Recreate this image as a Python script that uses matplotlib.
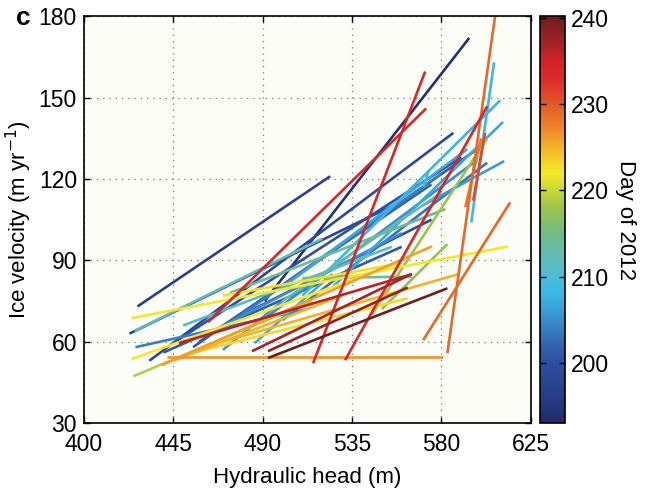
import numpy as np
import matplotlib
matplotlib.use('Agg')
import matplotlib.pyplot as plt
from matplotlib.colors import LinearSegmentedColormap, Normalize
from matplotlib.colorbar import ColorbarBase

plt.rcParams['font.family'] = ['Liberation Sans', 'DejaVu Sans']

# segments: hydraulic head (m) -> ice velocity (m/yr), coloured by day of 2012
x_start = [427, 491, 433, 423, 446, 455, 480, 440, 500, 458, 470, 490, 426, 460,
           470, 486, 500, 510, 525, 570, 606.5, 571, 450, 425.5, 500, 473.6, 510,
           550, 545, 425, 424, 424, 470, 450, 470, 445, 439.3, 442, 592, 570.8,
           583, 596, 462.5, 531.5, 515.4, 447.9, 484.6, 492.7, 492.7]
y_start = [73, 75, 53, 63, 60, 58, 70, 56, 68, 60, 65, 68, 58, 62,
           57, 59.5, 80, 77, 80, 110, 163, 117, 66, 64, 75, 78, 83.5,
           72, 70, 47.3, 68.7, 53.6, 77, 55, 60, 53, 51.4, 54.3, 109.6, 60.6,
           55.8, 112, 67.2, 53.2, 52.1, 59.5, 56.5, 56.5, 54]
x_end = [524, 594, 586, 555, 590, 600, 575, 560, 603, 575, 580, 598, 512, 560,
         500, 525, 593, 609.6, 611, 611.6, 595, 573.5, 555, 520, 580, 582, 565,
         583, 603, 515, 613.6, 555, 560, 563, 589, 530, 575.3, 581, 600, 614.6,
         607, 602, 572.3, 603, 571.8, 565.2, 565, 563, 583]
y_end = [121, 172, 137, 110, 128, 132, 105, 95, 126, 118, 122, 127, 72, 100,
         75, 85, 131, 149, 141, 126.6, 104, 123, 95, 98, 115, 108.9, 84,
         96, 135, 75, 95.1, 88, 89, 76, 85, 77, 95.2, 54.3, 135, 111.4,
         180, 137, 146, 146.8, 159.6, 84.9, 85, 80, 79.7]
day = [197, 194, 199, 198, 200, 201, 199, 201, 203, 202, 204, 205, 204, 205,
       206, 207, 207, 208, 207, 206, 208, 209, 211, 212, 213, 214, 214,
       217, 218, 219, 222, 222, 222.5, 223, 225, 225, 226, 226.5, 228, 229,
       229, 231, 234, 234, 234, 236, 237, 238, 240.5]

cb_ticks = [200, 210, 220, 230, 240]

# colour scale sampled from the colorbar (day, colour)
cmap_days = [193, 196, 200, 202, 205, 208, 210, 212, 215, 218, 220, 222, 224,
             227, 230, 233, 235, 237, 240.2]
cmap_cols = ['#222a6a', '#283c88', '#2c50a0', '#3464ae', '#3a8ed0', '#38b8e8',
             '#4cbcd8', '#62bcb8', '#72ba88', '#9cc44c', '#c8d838', '#f6e82a',
             '#f3c82a', '#ee8a2a', '#e25a28', '#dc2a2a', '#d42228', '#a82226',
             '#6b1e1e']
vmin, vmax = 193, 240.2
cmap = LinearSegmentedColormap.from_list(
    'day', [((d - vmin) / (vmax - vmin), c) for d, c in zip(cmap_days, cmap_cols)])
norm = Normalize(vmin=vmin, vmax=vmax)

fig = plt.figure(figsize=(6.45, 4.92), dpi=100)
ax = fig.add_axes([0.130, 0.140, 0.693, 0.827])
ax.set_facecolor('#fdfdf7')

for xs, ys, xe, ye, d in zip(x_start, y_start, x_end, y_end, day):
    ax.plot([xs, xe], [ys, ye], color=cmap(norm(d)), linewidth=1.9,
            solid_capstyle='butt')

ax.set_xlim(400, 625)
ax.set_ylim(30, 180)
ax.set_xticks([400, 445, 490, 535, 580, 625])
ax.set_yticks([30, 60, 90, 120, 150, 180])
ax.grid(True, linestyle=(0, (1, 4)), color='#777777', linewidth=0.9)
ax.tick_params(direction='in', length=4, width=1, labelsize=16.5,
               top=True, right=True)
ax.tick_params(axis='x', pad=7)
ax.tick_params(axis='y', pad=5)
for s in ax.spines.values():
    s.set_linewidth(1.2)
ax.set_xlabel('Hydraulic head (m)', fontsize=16, labelpad=8)
ax.set_ylabel('Ice velocity (m yr$^{-1}$)', fontsize=16, labelpad=3)

fig.text(0.025, 0.963, 'c', fontsize=19, fontweight='bold', va='center')

cax = fig.add_axes([0.837, 0.140, 0.039, 0.827])
cb = ColorbarBase(cax, cmap=cmap, norm=norm, orientation='vertical')
cb.set_ticks(cb_ticks)
cax.tick_params(direction='in', length=4, width=1, labelsize=16.5,
                left=True, right=True, pad=4)
cb.outline.set_linewidth(1.2)
cb.set_label('Day of 2012', rotation=270, fontsize=16, labelpad=20)

fig.savefig('out.png', dpi=100)
